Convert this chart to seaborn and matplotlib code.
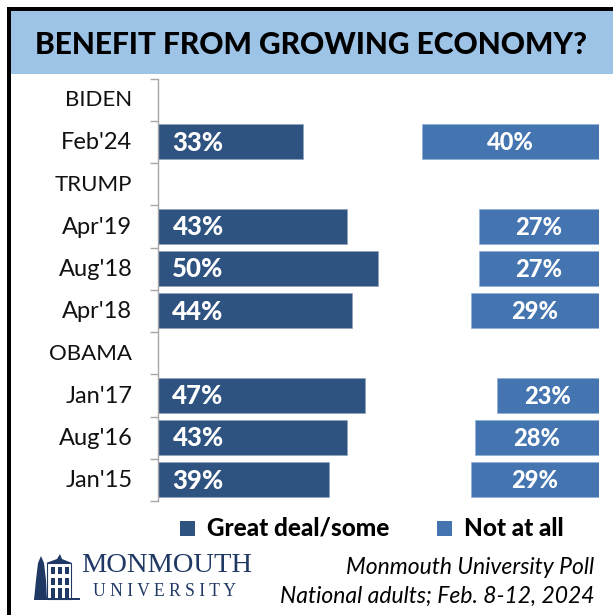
import matplotlib
matplotlib.use('Agg')
import matplotlib.pyplot as plt
from matplotlib.patches import Rectangle, Polygon
import seaborn as sns
import pandas as pd

W, H = 613, 615

labels = ['BIDEN', "Feb'24", 'TRUMP', "Apr'19", "Aug'18", "Apr'18", 'OBAMA', "Jan'17", "Aug'16", "Jan'15"]
waves = ["Feb'24", "Apr'19", "Aug'18", "Apr'18", "Jan'17", "Aug'16", "Jan'15"]
great_deal = [33, 43, 50, 44, 47, 43, 39]
not_at_all = [40, 27, 27, 29, 23, 28, 29]

dark = '#2F5380'
mid = '#4475B0'
sky = '#9DC3E6'

sns.set_theme(style='white')
plt.rcParams['font.family'] = ['Lato', 'DejaVu Sans']

df = pd.DataFrame({'wave': waves, 'great': great_deal, 'none': not_at_all})

fig = plt.figure(figsize=(W / 100, H / 100), dpi=100)
ax = fig.add_axes([157.5 / W, 1 - 501 / H, 441 / W, 422.5 / H])

sns.barplot(data=df, x='great', y='wave', order=labels, color=dark, saturation=1,
            width=0.83, orient='y', ax=ax, edgecolor='#8FA3BC', linewidth=0.5)
# the right hand bars run back from 100
sns.barplot(data=df, x='none', y='wave', order=labels, color=mid, saturation=1,
            width=0.83, orient='y', ax=ax, left=[100 - v for v in not_at_all],
            edgecolor='#8FB0D6', linewidth=0.5)

ax.set_xlim(0, 100)
ax.set_ylim(len(labels) - 0.5, -0.5)
ax.set_xlabel('')
ax.set_ylabel('')
ax.xaxis.set_visible(False)
for s in ['top', 'right', 'bottom']:
    ax.spines[s].set_visible(False)
ax.spines['left'].set_color('#A6A6A6')
ax.spines['left'].set_linewidth(1.0)
ax.set_yticks([i - 0.5 for i in range(len(labels) + 1)])
ax.set_yticklabels([])
ax.tick_params(axis='y', length=5.8, width=1.0, color='#A6A6A6', left=True)

for i, lab in enumerate(labels):
    size = 16 if lab.isupper() else 17
    ax.text(-5.7, i + 0.02, lab, ha='right', va='center', fontsize=size, color='#111111',
            clip_on=False)

for w, g, n in zip(waves, great_deal, not_at_all):
    y = labels.index(w)
    ax.text(9.2, y + 0.02, f'{g}%', ha='center', va='center', color='white',
            fontsize=18.5, fontweight='black')
    ax.text(100 - n / 2, y + 0.02, f'{n}%', ha='center', va='center', color='white',
            fontsize=17, fontweight='black')

# frame, title band
bg = fig.add_axes([0, 0, 1, 1], zorder=-1)
bg.set_xlim(0, W)
bg.set_ylim(H, 0)
bg.axis('off')
bg.add_patch(Rectangle((11, 11), W - 11, 63, color=sky, lw=0))
bg.add_patch(Rectangle((7, 7), W - 7, 4, color='black', lw=0))
bg.add_patch(Rectangle((7, 7), 4, H - 7, color='black', lw=0))
bg.text(311, 45, 'BENEFIT FROM GROWING ECONOMY?', ha='center', va='center',
        fontsize=21.5, fontweight='black', color='black')

# legend
bg.add_patch(Rectangle((180, 521), 15, 15, color=dark, lw=0))
bg.add_patch(Rectangle((437, 521), 15, 15, color=mid, lw=0))
bg.text(207, 528, 'Great deal/some', va='center', fontsize=17.5, fontweight='black', color='black')
bg.text(464, 528, 'Not at all', va='center', fontsize=17.5, fontweight='black', color='black')

# footer
bg.text(594, 567, 'Monmouth University Poll', ha='right', va='center', style='italic',
        fontsize=16.5, color='black')
bg.text(594, 596, 'National adults; Feb. 8-12, 2024', ha='right', va='center', style='italic',
        fontsize=16.5, color='black')

# logo, roughly
navy = '#1F3864'
bg.text(81, 566, 'MONMOUTH', va='center', family='Liberation Serif', fontsize=20.5, color=navy)
bg.text(93, 591, 'U N I V E R S I T Y', va='center', family='Liberation Serif', fontsize=12.7, color=navy)
# tree
bg.add_patch(Polygon([(34, 600), (36, 580), (38, 563), (41, 556), (44, 563), (46, 580), (47, 600)],
                     color=navy, lw=0))
# tower and wing
bg.add_patch(Rectangle((47, 563), 24, 36, facecolor='white', edgecolor=navy, lw=0.8))
bg.add_patch(Polygon([(46, 563), (57, 559), (60, 554), (62, 559), (72, 563)], color=navy, lw=0))
for wx in [51, 58, 65]:
    for wy in [567, 578]:
        bg.add_patch(Rectangle((wx, wy), 3.5, 7, color=navy, lw=0))
    bg.add_patch(Rectangle((wx, 588), 3.5, 11, color=navy, lw=0))
bg.add_patch(Rectangle((34, 598), 46, 2, color=navy, lw=0))

fig.savefig('out.png', dpi=100)
